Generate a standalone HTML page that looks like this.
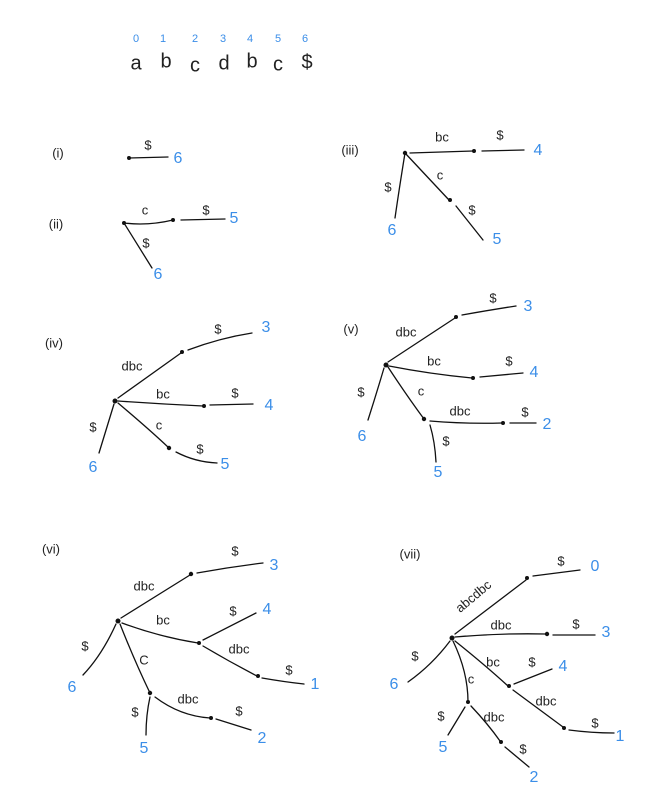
<!DOCTYPE html>
<html><head><meta charset="utf-8"><style>
html,body{margin:0;padding:0;background:#fff;}
svg{display:block}
text{font-family:"Liberation Sans",sans-serif;text-anchor:middle;dominant-baseline:middle;fill:#222}
.b{fill:#3b8ee8;font-size:16px}
.l{font-size:13px}
.d{font-size:11px;fill:#3b8ee8}
.t{font-size:20px}
line,path{stroke:#111;stroke-width:1.3;fill:none;stroke-linecap:round}
circle{fill:#111}
</style></head><body>
<svg width="656" height="810" viewBox="0 0 656 810">
<!-- top string -->
<g class="d"><text x="136" y="39" class="d">0</text><text x="163" y="39" class="d">1</text><text x="195" y="39" class="d">2</text><text x="223" y="39" class="d">3</text><text x="250" y="39" class="d">4</text><text x="278" y="39" class="d">5</text><text x="305" y="39" class="d">6</text></g>
<text x="136" y="64" class="t">a</text><text x="166" y="62" class="t">b</text><text x="195" y="66" class="t">c</text><text x="224" y="64" class="t">d</text><text x="252" y="62" class="t">b</text><text x="278" y="65" class="t">c</text><text x="307" y="63" class="t">$</text>

<!-- (i) -->
<text x="58" y="154" class="l">(i)</text>
<line x1="129" y1="158" x2="168" y2="157"/><circle cx="129" cy="158" r="2"/>
<text x="148" y="146" class="l">$</text><text x="178" y="159" class="b">6</text>

<!-- (ii) -->
<text x="56" y="225" class="l">(ii)</text>
<path d="M124 223 Q148 226 173 220"/><circle cx="124" cy="223" r="2"/><circle cx="173" cy="220" r="2"/>
<line x1="181" y1="220" x2="225" y2="219"/>
<text x="145" y="211" class="l">c</text><text x="206" y="211" class="l">$</text><text x="234" y="219" class="b">5</text>
<line x1="124" y1="223" x2="152" y2="268"/><text x="146" y="244" class="l">$</text><text x="158" y="275" class="b">6</text>

<!-- (iii) -->
<text x="350" y="151" class="l">(iii)</text>
<circle cx="405" cy="153" r="2.2"/>
<line x1="410" y1="153" x2="473" y2="151"/><circle cx="474" cy="151" r="2"/>
<line x1="482" y1="151" x2="524" y2="150"/>
<text x="442" y="138" class="l">bc</text><text x="500" y="136" class="l">$</text><text x="538" y="151" class="b">4</text>
<line x1="405" y1="153" x2="449" y2="200"/><circle cx="450" cy="200" r="2"/>
<line x1="456" y1="206" x2="483" y2="240"/>
<text x="440" y="176" class="l">c</text><text x="472" y="211" class="l">$</text><text x="497" y="240" class="b">5</text>
<path d="M405 153 Q399 190 395 218"/><text x="388" y="188" class="l">$</text><text x="392" y="231" class="b">6</text>

<!-- (iv) -->
<text x="54" y="344" class="l">(iv)</text>
<circle cx="115" cy="401" r="2.5"/>
<line x1="118" y1="398" x2="181" y2="353"/><circle cx="182" cy="352" r="2"/>
<path d="M188 350 Q220 338 252 333"/>
<text x="132" y="367" class="l">dbc</text><text x="218" y="330" class="l">$</text><text x="266" y="328" class="b">3</text>
<path d="M118 401 Q160 404 203 406"/><circle cx="204" cy="406" r="2"/>
<line x1="210" y1="405" x2="253" y2="404"/>
<text x="163" y="395" class="l">bc</text><text x="235" y="394" class="l">$</text><text x="269" y="406" class="b">4</text>
<path d="M118 403 Q150 430 169 448"/><circle cx="169" cy="448" r="2.2"/>
<path d="M176 452 Q195 462 217 463"/>
<text x="159" y="426" class="l">c</text><text x="200" y="450" class="l">$</text><text x="225" y="465" class="b">5</text>
<path d="M114 404 Q106 430 99 453"/><text x="93" y="428" class="l">$</text><text x="93" y="468" class="b">6</text>

<!-- (v) -->
<text x="351" y="330" class="l">(v)</text>
<circle cx="386" cy="365" r="2.5"/>
<line x1="388" y1="362" x2="455" y2="318"/><circle cx="456" cy="317" r="2"/>
<path d="M462 315 Q490 310 516 306"/>
<text x="406" y="333" class="l">dbc</text><text x="493" y="299" class="l">$</text><text x="528" y="307" class="b">3</text>
<path d="M389 366 Q430 374 472 378"/><circle cx="473" cy="378" r="2"/>
<line x1="480" y1="377" x2="523" y2="373"/>
<text x="434" y="362" class="l">bc</text><text x="509" y="362" class="l">$</text><text x="534" y="373" class="b">4</text>
<path d="M388 367 Q407 396 424 419"/><circle cx="424" cy="419" r="2.2"/>
<path d="M430 421 Q465 424 502 423"/><circle cx="503" cy="423" r="2"/>
<line x1="510" y1="423" x2="536" y2="423"/>
<text x="421" y="392" class="l">c</text><text x="460" y="412" class="l">dbc</text><text x="525" y="413" class="l">$</text><text x="547" y="425" class="b">2</text>
<path d="M430 425 Q435 442 436 462"/><text x="446" y="442" class="l">$</text><text x="438" y="473" class="b">5</text>
<path d="M384 368 Q376 395 368 420"/><text x="361" y="393" class="l">$</text><text x="362" y="437" class="b">6</text>

<!-- (vi) -->
<text x="51" y="550" class="l">(vi)</text>
<circle cx="118" cy="621" r="2.5"/>
<line x1="121" y1="618" x2="190" y2="575"/><circle cx="191" cy="574" r="2.2"/>
<path d="M197 573 Q230 567 263 563"/>
<text x="144" y="587" class="l">dbc</text><text x="235" y="552" class="l">$</text><text x="274" y="566" class="b">3</text>
<path d="M122 623 Q160 637 198 643"/><circle cx="199" cy="643" r="2"/>
<line x1="203" y1="640" x2="256" y2="613"/>
<text x="163" y="621" class="l">bc</text><text x="233" y="612" class="l">$</text><text x="267" y="610" class="b">4</text>
<path d="M203 646 Q230 662 257 676"/><circle cx="258" cy="676" r="2"/>
<path d="M262 678 Q285 682 304 684"/>
<text x="239" y="650" class="l">dbc</text><text x="289" y="671" class="l">$</text><text x="315" y="685" class="b">1</text>
<path d="M116 624 Q102 655 83 675"/><text x="85" y="647" class="l">$</text><text x="72" y="688" class="b">6</text>
<path d="M120 624 Q135 662 150 693"/><circle cx="150" cy="693" r="2.2"/>
<path d="M150 697 Q146 715 146 735"/>
<text x="144" y="661" class="l">C</text><text x="135" y="713" class="l">$</text><text x="144" y="749" class="b">5</text>
<path d="M155 697 Q180 716 210 718"/><circle cx="211" cy="718" r="2"/>
<line x1="216" y1="719" x2="251" y2="730"/>
<text x="188" y="700" class="l">dbc</text><text x="239" y="712" class="l">$</text><text x="262" y="739" class="b">2</text>

<!-- (vii) -->
<text x="410" y="555" class="l">(vii)</text>
<circle cx="452" cy="638" r="2.5"/>
<line x1="455" y1="634" x2="526" y2="580"/><circle cx="527" cy="578" r="2"/>
<line x1="533" y1="576" x2="580" y2="570"/>
<text x="474" y="597" class="l" transform="rotate(-40 474 597)">abcdbc</text><text x="561" y="562" class="l">$</text><text x="595" y="567" class="b">0</text>
<path d="M455 637 Q500 633 546 634"/><circle cx="547" cy="634" r="2.2"/>
<line x1="553" y1="635" x2="595" y2="635"/>
<text x="501" y="626" class="l">dbc</text><text x="576" y="625" class="l">$</text><text x="606" y="633" class="b">3</text>
<path d="M455 641 Q485 665 508 686"/><circle cx="509" cy="686" r="2"/>
<line x1="514" y1="684" x2="552" y2="669"/>
<text x="493" y="663" class="l">bc</text><text x="532" y="663" class="l">$</text><text x="563" y="667" class="b">4</text>
<path d="M513 690 Q540 710 563 727"/><circle cx="564" cy="728" r="2"/>
<path d="M569 730 Q592 733 614 733"/>
<text x="546" y="702" class="l">dbc</text><text x="595" y="724" class="l">$</text><text x="620" y="737" class="b">1</text>
<path d="M450 641 Q432 665 408 682"/><text x="415" y="657" class="l">$</text><text x="394" y="685" class="b">6</text>
<path d="M453 641 Q468 672 468 702"/><circle cx="468" cy="702" r="2"/>
<line x1="465" y1="707" x2="448" y2="735"/>
<text x="471" y="680" class="l">c</text><text x="441" y="717" class="l">$</text><text x="443" y="748" class="b">5</text>
<path d="M471 706 Q488 724 500 741"/><circle cx="501" cy="742" r="2"/>
<line x1="505" y1="747" x2="529" y2="767"/>
<text x="494" y="718" class="l">dbc</text><text x="523" y="750" class="l">$</text><text x="534" y="778" class="b">2</text>
</svg>
</body></html>
